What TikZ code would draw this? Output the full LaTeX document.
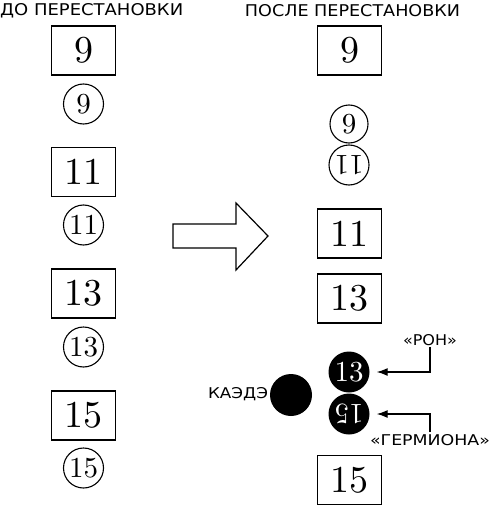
\documentclass[tikz,border=0pt]{standalone}
\usepackage{fontspec}
\newfontfamily\lblfont{DejaVu Sans}
\newfontfamily\numfont{lmroman10-regular.otf}
\usetikzlibrary{arrows.meta}
\tikzset{
  numbox/.style={draw, line width=1.3pt, minimum width=64pt, minimum height=49pt, inner sep=0pt, font=\numfont\fontsize{38}{38}\selectfont},
  numcirc/.style={circle, draw, line width=1.1pt, minimum size=40pt, inner sep=0pt, font=\numfont\fontsize{29}{29}\selectfont},
  blackcirc/.style={circle, fill=black, text=white, minimum size=41pt, inner sep=0pt, font=\numfont\fontsize{29}{29}\selectfont},
  lbl/.style={inner sep=0pt},
  conn/.style={line width=1.3pt, -{Latex[length=11pt,width=8pt]}, shorten >=7pt}
}
\begin{document}
\begin{tikzpicture}[x=1pt,y=-1pt]
\useasboundingbox (0,0) rectangle (491,508);
% headers
\node[lbl, anchor=west] (hl) at (0,11) {\resizebox{183pt}{12pt}{\lblfont ДО ПЕРЕСТАНОВКИ}};
\node[lbl] (hr) at (352.5,11) {\resizebox{215pt}{12pt}{\lblfont ПОСЛЕ ПЕРЕСТАНОВКИ}};
% left column
\node[numbox] (l9) at (83.5,50.5) {9};
\node[numcirc] (lc9) at (83.5,104) {9};
\node[numbox] (l11) at (83.5,172) {11};
\node[numcirc] (lc11) at (83.5,225) {11};
\node[numbox] (l13) at (83.5,293.5) {13};
\node[numcirc] (lc13) at (83.5,347) {13};
\node[numbox] (l15) at (83.5,415.5) {15};
\node[numcirc] (lc15) at (83.5,468) {15};
% big arrow
\draw[line width=1.2pt, line join=miter] (173,224) -- (236,224) -- (236,203) -- (268,236) -- (236,270) -- (236,248) -- (173,248) -- cycle;
% right column
\node[numbox] (r9) at (349.5,50.5) {9};
\node[numcirc, minimum size=38pt] (rc9) at (349,124) {9};
\node[numcirc, rotate=180] (rc11) at (349,165) {11};
\node[numbox] (r11) at (349.5,233.5) {11};
\node[numbox] (r13) at (349.5,298.5) {13};
\node[blackcirc] (b13) at (349,372) {13};
\node[blackcirc, rotate=180] (b15) at (349,414) {15};
\node[circle, fill=black, minimum size=42pt, inner sep=0pt] (kaede) at (291,395) {};
\node[lbl] (kl) at (238,394) {\resizebox{60pt}{11pt}{\lblfont КАЭДЭ}};
\node[numbox] (r15) at (349.5,480) {15};
% labels and pointers
\node[lbl] (ron) at (430,340) {\resizebox{54pt}{11pt}{\lblfont «РОН»}};
\node[lbl] (herm) at (430,440) {\resizebox{120pt}{11pt}{\lblfont «ГЕРМИОНА»}};
\draw[conn] (ron.south) ++(0,1) |- (b13.east);
\draw[conn] (herm.north) ++(0,-2) |- (b15.west);
\end{tikzpicture}
\end{document}
